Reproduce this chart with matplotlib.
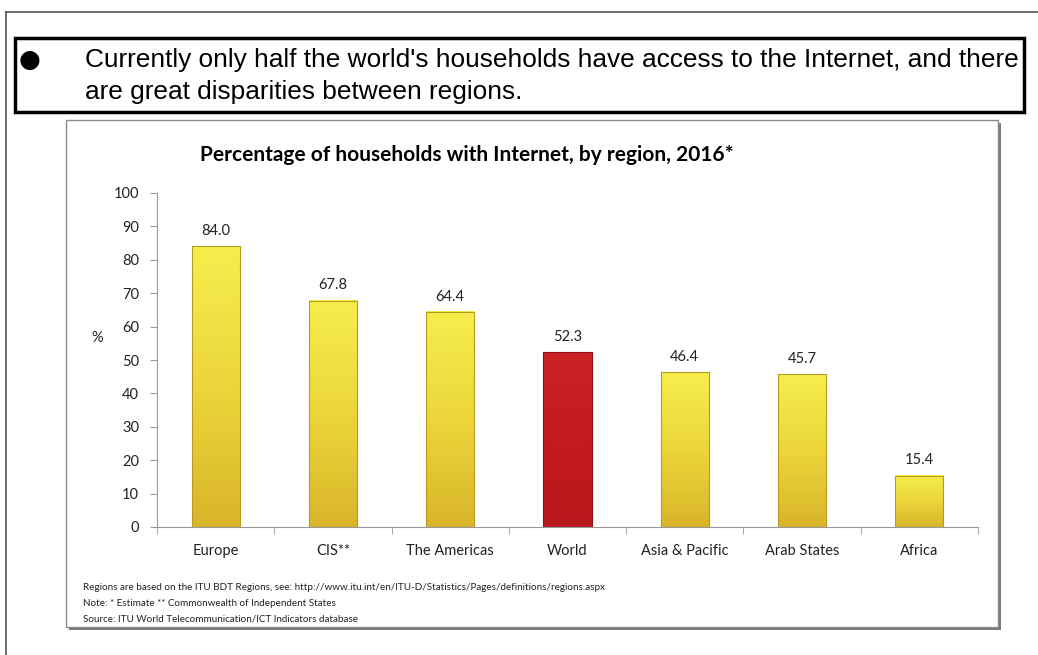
import matplotlib.pyplot as plt
import numpy as np
from matplotlib.patches import Rectangle
from matplotlib.colors import LinearSegmentedColormap

regions = ["Europe", "CIS**", "The Americas", "World", "Asia & Pacific", "Arab States", "Africa"]
values = [84.0, 67.8, 64.4, 52.3, 46.4, 45.7, 15.4]
highlight = "World"

title = "Percentage of households with Internet, by region, 2016*"
headline = ["Currently only half the world's households have access to the Internet, and there",
            "are great disparities between regions."]
notes = ["Regions are based on the ITU BDT Regions, see: http://www.itu.int/en/ITU-D/Statistics/Pages/definitions/regions.aspx",
         "Note: * Estimate ** Commonwealth of Independent States",
         "Source: ITU World Telecommunication/ICT Indicators database"]

W, H = 1038, 655
fig = plt.figure(figsize=(W / 100, H / 100), dpi=100)
fig.patch.set_facecolor("white")


def fx(px):
    return px / W


def fy(py):
    return 1 - py / H


font = ["Lato", "DejaVu Sans"]

# outer page lines
fig.add_artist(plt.Line2D([fx(6), fx(6)], [fy(12), 0], color="#555555", lw=1.2))
fig.add_artist(plt.Line2D([fx(6), 1], [fy(12), fy(12)], color="#555555", lw=1.2))

# headline box
fig.add_artist(Rectangle((fx(15), fy(112)), fx(1024) - fx(15), fy(38) - fy(112),
                         fill=False, ec="black", lw=2.5))
fig.text(fx(30), fy(60), "\u25CF", fontsize=18, va="center", ha="center", color="black")
hfont = ["Liberation Sans Narrow", "Liberation Sans", "DejaVu Sans"]
fig.text(fx(85), fy(60), headline[0], fontsize=18.9, va="center", family=hfont)
fig.text(fx(85), fy(92), headline[1], fontsize=18.9, va="center", family=hfont)

# chart frame with shadow
fig.add_artist(Rectangle((fx(69), fy(630)), fx(1001) - fx(69), fy(123) - fy(630),
                         fc="#7a7a7a", ec="none", zorder=-2))
fig.add_artist(Rectangle((fx(66), fy(627)), fx(998) - fx(66), fy(120) - fy(627),
                         fc="white", ec="#8a8a8a", lw=1, zorder=-1))

fig.text(fx(467), fy(155), title, fontsize=15, fontweight="bold", ha="center", va="center",
         family=font)
for i, line in enumerate(notes):
    fig.text(fx(83), fy(587 + 16 * i), line, fontsize=7.1, va="center",
             family=font, color="#222222")
fig.text(fx(97), fy(338), "%", fontsize=10.5, ha="center", va="center",
         family=font, color="#222222")

ax = fig.add_axes([fx(157), fy(527), fx(978) - fx(157), fy(193) - fy(527)])
ax.set_facecolor("none")
ax.set_zorder(5)

yellow = LinearSegmentedColormap.from_list("yel", ["#d9b52a", "#ecd63a", "#f6ee4c"])
red = LinearSegmentedColormap.from_list("red", ["#b8171d", "#c41a20", "#cc2226"])
grad = np.linspace(0, 1, 256).reshape(-1, 1)

x = np.arange(len(regions))
bw = 0.41
for xi, v, name in zip(x, values, regions):
    cmap = red if name == highlight else yellow
    ax.imshow(grad, cmap=cmap, origin="lower", aspect="auto",
              extent=[xi - bw / 2, xi + bw / 2, 0, v], zorder=2)
    ax.bar(xi, v, width=bw, fill=False, edgecolor="#b99a20" if name != highlight else "#8c1015",
           lw=0.8, zorder=3)
    ax.annotate(f"{v:.1f}", (xi, v), xytext=(0, 6), textcoords="offset points",
                ha="center", va="bottom", fontsize=10.5, family=font,
                color="#222222")

ax.set_xlim(-0.5, len(regions) - 0.5)
ax.set_ylim(0, 100)
ax.set_yticks(range(0, 101, 10))
ax.set_xticks(x)
ax.set_xticklabels(regions, fontsize=10.5, family=font, color="#222222")
ax.set_xticks(np.arange(-0.5, len(regions)), minor=True)
ax.tick_params(axis="x", which="major", length=0, pad=12)
ax.tick_params(axis="x", which="minor", length=5, color="#999999")
ax.tick_params(axis="y", length=5, color="#999999", labelsize=10.5, labelcolor="#222222", pad=8)
for lab in ax.get_yticklabels():
    lab.set_family(font)
for s in ["top", "right"]:
    ax.spines[s].set_visible(False)
for s in ["left", "bottom"]:
    ax.spines[s].set_color("#999999")

fig.savefig("out.png", dpi=100)
